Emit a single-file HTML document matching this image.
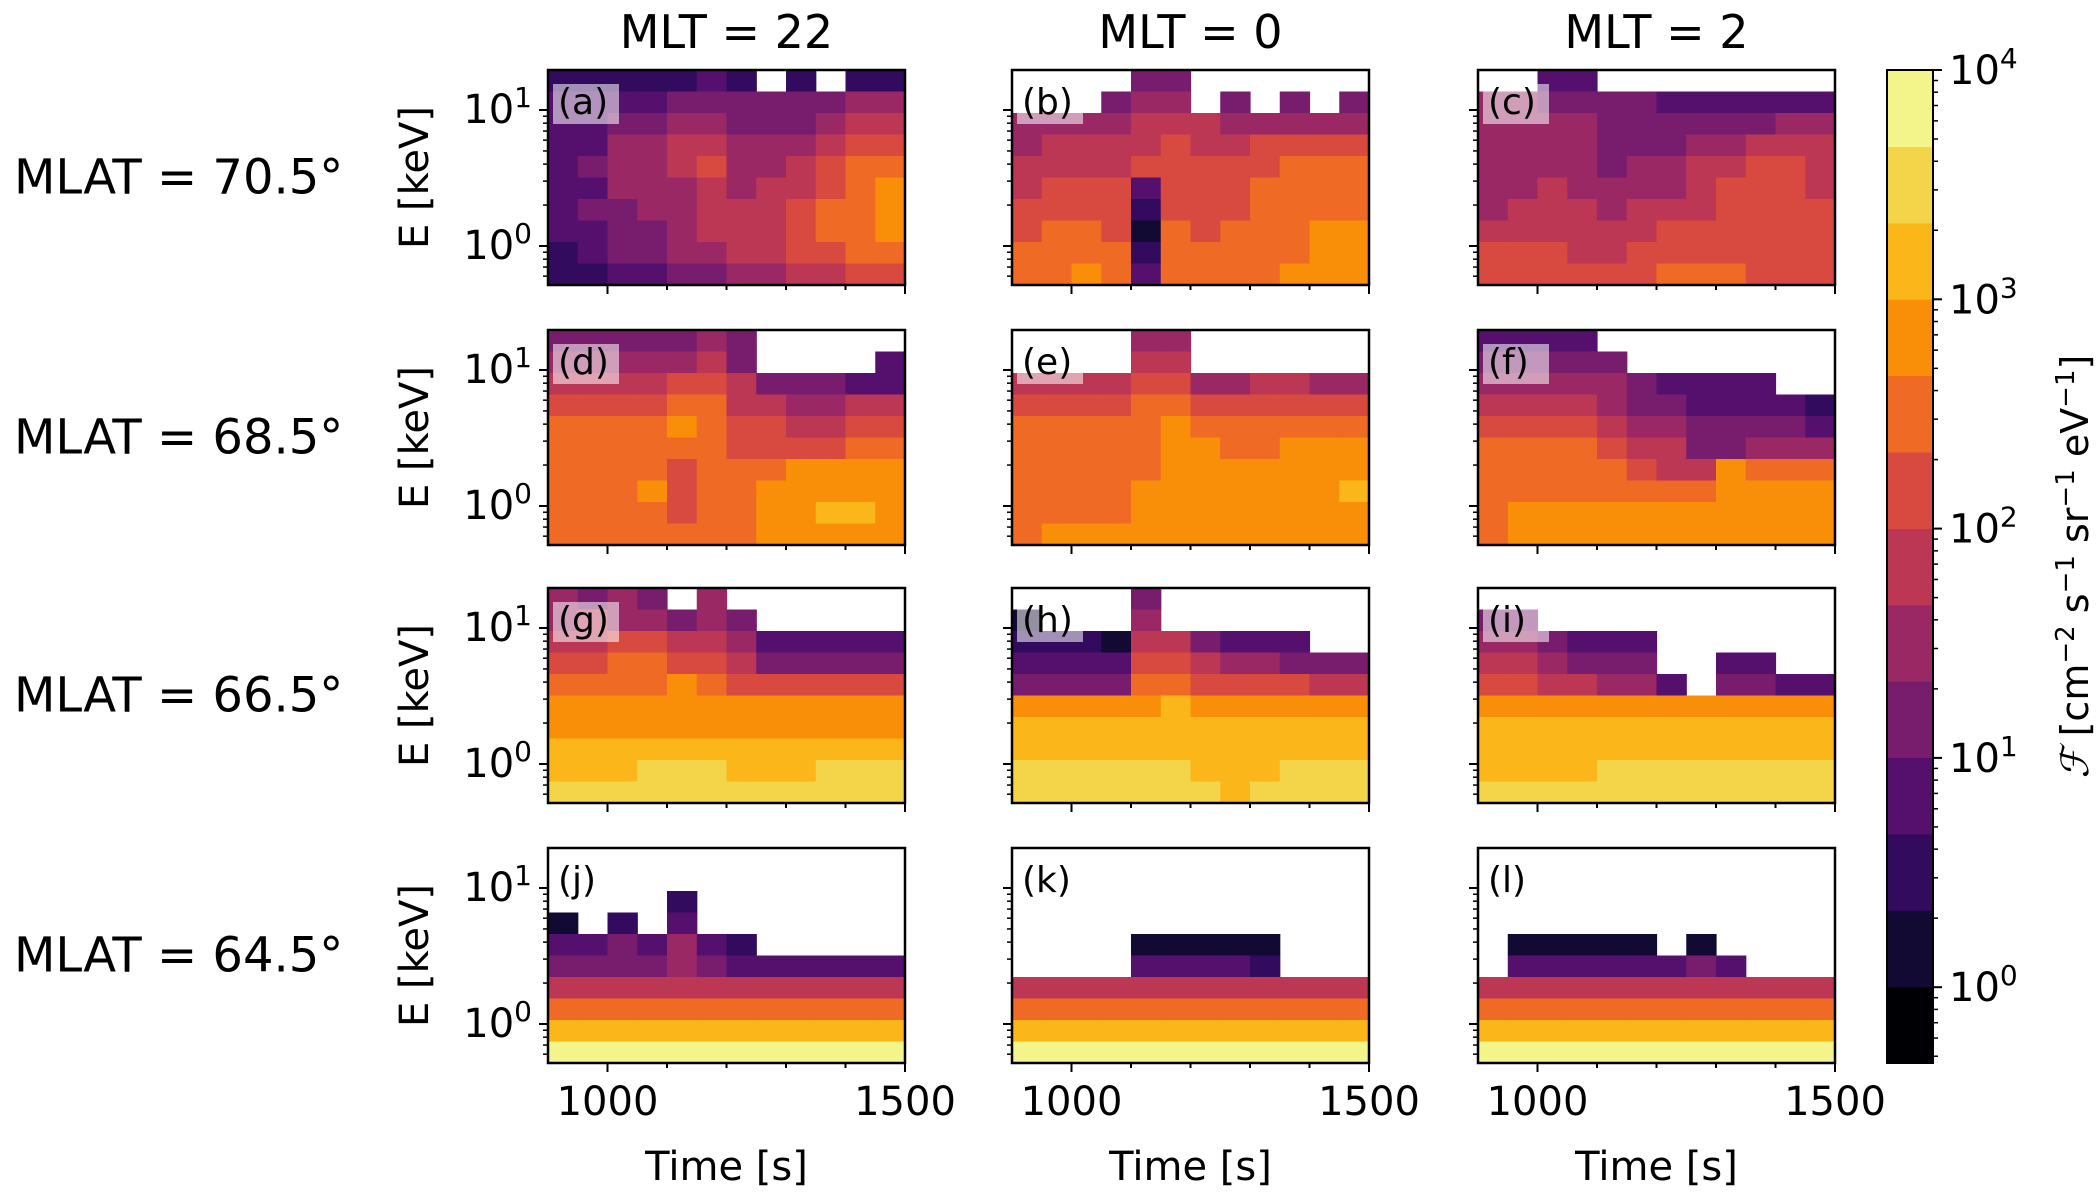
<!DOCTYPE html>
<html><head><meta charset="utf-8">
<style>
html,body{margin:0;padding:0;background:#fff;}
svg{display:block;font-family:"DejaVu Sans","Liberation Sans",sans-serif;}
</style></head>
<body>
<svg id="fig" width="2100" height="1200" viewBox="0 0 2100 1200" xmlns="http://www.w3.org/2000/svg"></svg>
<script>
// ---- data ----
const colTitles = ["MLT = 22", "MLT = 0", "MLT = 2"];
const rowTitles = ["MLAT = 70.5°", "MLAT = 68.5°", "MLAT = 66.5°", "MLAT = 64.5°"];
const panelLabels = ["(a)","(b)","(c)","(d)","(e)","(f)","(g)","(h)","(i)","(j)","(k)","(l)"];
const xTicks = [1000, 1500];
const yTickExps = [0, 1];
const cbarExps = [0, 1, 2, 3, 4];
const levelColors = ["#000004","#120a32","#320a5e","#55106e","#781c6d","#9a2865","#bc3754","#d84a40","#ee6a25","#f98e09","#fbb61a","#f4d54a","#f3f48a"];
// level grids: 10 energy rows (top->bottom) x 12 time bins (900-1500 s); '.' = no flux
const grids = [
 ["2222232.2.22","333344444455","334455444566","335566555677","345567556788","335556566789","344556667889","334456667889","234455667788","223344556677"],
 ["....44......","...455.4.4.4","555566655555","566667667777","666677777888","677737778888","777727778888","788718788899","888828888899","889838888999"],
 ["..33........","554444333333","555544444455","555544455666","555545566776","556555567776","566656667777","666666777777","777667777777","777777888777"],
 ["4444454.....","5555564....3","666677644433","777788665566","888898776677","888888777788","888878889999","888978899999","888878899aa9","888888899999"],
 ["....55......","....66......","666677556655","777788777777","888889888888","888889988999","888889999999","88889999999a","888899999999","899999999999"],
 ["3333........","44444.......","5555543333..","666654433332","777765544443","888876644555","888887669888","888888889999","899999999999","899999999999"],
 ["5454.5......","5655454.....","667766533333","778877644444","888898777777","999999999999","999999999999","aaaaaaaaaaaa","aaabbbaaabbb","bbbbbbbbbbbb"],
 ["....4.......","1...5.......","2221664333..","333377655444","444488777766","99999a999999","aaaaaaaaaaaa","aaaaaaaaaaaa","bbbbbbaaabbb","bbbbbbbabbbb"],
 ["............","44..........","554333......","665444..33..","7766553.4433","999999999999","aaaaaaaaaaaa","aaaaaaaaaaaa","aaaabbbbbbbb","bbbbbbbbbbbb"],
 ["............","............","....2.......","1.2.3.......","3343532.....","444454333333","666666666666","888888888888","aaaaaaaaaaaa","cccccccccccc"],
 ["............","............","............","............","....11111...","....33332...","666666666666","888888888888","aaaaaaaaaaaa","cccccccccccc"],
 ["............","............","............","............",".11111.1....",".33333343...","666666666666","888888888888","aaaaaaaaaaaa","cccccccccccc"]
];
// ---- layout ----
const NS="http://www.w3.org/2000/svg";
const svg=document.getElementById('fig');
function mk(tag,attrs,parent){const e=document.createElementNS(NS,tag);for(const k in attrs)e.setAttribute(k,attrs[k]);(parent||svg).appendChild(e);return e;}
const lefts=[548,1012,1478], tops=[70,330,588,848], PW=357, PH=215;
const tMin=900,tMax=1500, logTop=1+40/136, logBot=1-175/136;
function xOf(left,t){return left+(t-tMin)/(tMax-tMin)*PW;}
function yOf(top,lg){return top+(logTop-lg)/(logTop-logBot)*PH;}

colTitles.forEach((s,i)=>{
  const t=mk('text',{x:lefts[i]+PW/2,y:48,'text-anchor':'middle','font-size':46});
  t.textContent=s;
  
  
});
rowTitles.forEach((s,i)=>{
  const t=mk('text',{x:14,y:tops[i]+PH/2+16,'font-size':48});
  t.textContent=s;
  
  
});

grids.forEach((g,p)=>{
  const r=Math.floor(p/3), c=p%3, L=lefts[c], T=tops[r];
  const grp=mk('g',{});
  
  
  const nr=g.length, nc=g[0].length;
  for(let i=0;i<nr;i++)for(let j=0;j<nc;j++){
    const ch=g[i][j]; if(ch==='.')continue;
    const lv=parseInt(ch,16);
    const t0=tMin+j*(tMax-tMin)/nc, t1=tMin+(j+1)*(tMax-tMin)/nc;
    const l0=logTop-i*(logTop-logBot)/nr, l1=logTop-(i+1)*(logTop-logBot)/nr;
    const x0=xOf(L,t0), x1=xOf(L,t1), y0=yOf(T,l0), y1=yOf(T,l1);
    const rc=mk('rect',{x:x0,y:y0,width:x1-x0+0.6,height:y1-y0+0.6,fill:levelColors[lv]},grp);
    
    
  }
  const bx=mk('rect',{x:L+5,y:T+14,width:66,height:40,fill:'#fff','fill-opacity':0.55},grp);
  
  
  const lb=mk('text',{x:L+10,y:T+44,'font-size':36},grp);
  lb.textContent=panelLabels[p];
  
  
  const fr=mk('rect',{x:L,y:T,width:PW,height:PH,fill:'none',stroke:'#000','stroke-width':2.5},grp);
  
  
  yTickExps.forEach(e=>{
    const y=yOf(T,e);
    mk('line',{x1:L-9,x2:L,y1:y,y2:y,stroke:'#000','stroke-width':2},grp);
    if(c===0){
      const tx=mk('text',{x:L-16,y:y+13,'text-anchor':'end','font-size':40},grp);
      tx.innerHTML='10<tspan dy="-16" font-size="28">'+e+'</tspan>';
      
      
    }
  });
  for(let e=-1;e<=1;e++)for(let m=2;m<=9;m++){
    const lg=e+Math.log10(m); if(lg>logTop||lg<logBot)continue;
    const y=yOf(T,lg);
    mk('line',{x1:L-5,x2:L,y1:y,y2:y,stroke:'#000','stroke-width':1.5},grp);
  }
  for(let t=1000;t<=1500;t+=100){
    const x=xOf(L,t);
    mk('line',{x1:x,x2:x,y1:T+PH,y2:T+PH+(xTicks.includes(t)?9:5),stroke:'#000','stroke-width':2},grp);
  }
  if(r===3){
    xTicks.forEach(t=>{
      const tx=mk('text',{x:xOf(L,t),y:T+PH+52,'text-anchor':'middle','font-size':40},grp);
      tx.textContent=t;
      
      
    });
    const xl=mk('text',{x:L+PW/2,y:1180,'text-anchor':'middle','font-size':40},grp);
    xl.textContent='Time [s]';
    
    
  }
  if(c===0){
    const yl=mk('text',{x:0,y:0,'text-anchor':'middle','font-size':40,transform:`translate(428,${T+PH/2}) rotate(-90)`},grp);
    yl.textContent='E [keV]';
    
    
  }
});

const cbX=1887, cbW=46, cbTop=70, cbBot=1063, nb=levelColors.length;
const cbg=mk('g',{});


const bh=(cbBot-cbTop)/nb;
levelColors.forEach((col,i)=>{
  const rc=mk('rect',{x:cbX,y:cbBot-(i+1)*bh,width:cbW,height:bh+0.6,fill:col},cbg);
  
  
});
mk('rect',{x:cbX,y:cbTop,width:cbW,height:cbBot-cbTop,fill:'none',stroke:'#000','stroke-width':2},cbg);
const cbLogMin=4-(cbBot-cbTop)/229.3;
function cbY(lg){return cbTop+(4-lg)/(4-cbLogMin)*(cbBot-cbTop);}
cbarExps.forEach(e=>{
  const y=cbY(e);
  mk('line',{x1:cbX+cbW,x2:cbX+cbW+9,y1:y,y2:y,stroke:'#000','stroke-width':2},cbg);
  const tx=mk('text',{x:cbX+cbW+16,y:y+14,'font-size':40},cbg);
  tx.innerHTML='10<tspan dy="-16" font-size="28">'+e+'</tspan>';
  
  
});
for(let e=-1;e<4;e++)for(let m=2;m<=9;m++){
  const lg=e+Math.log10(m); if(lg<cbLogMin)continue;
  const y=cbY(lg);
  mk('line',{x1:cbX+cbW,x2:cbX+cbW+5,y1:y,y2:y,stroke:'#000','stroke-width':1.5},cbg);
}
const cl=mk('text',{x:0,y:0,'text-anchor':'middle','font-size':38,transform:`translate(2088,${(cbTop+cbBot)/2}) rotate(-90)`},cbg);
cl.innerHTML='<tspan font-style="italic" font-family="Liberation Serif">ℱ</tspan> [cm<tspan dy="-14" font-size="26">−2</tspan><tspan dy="14"> s</tspan><tspan dy="-14" font-size="26">−1</tspan><tspan dy="14"> sr</tspan><tspan dy="-14" font-size="26">−1</tspan><tspan dy="14"> eV</tspan><tspan dy="-14" font-size="26">−1</tspan><tspan dy="14">]</tspan>';


</script>
</body></html>
